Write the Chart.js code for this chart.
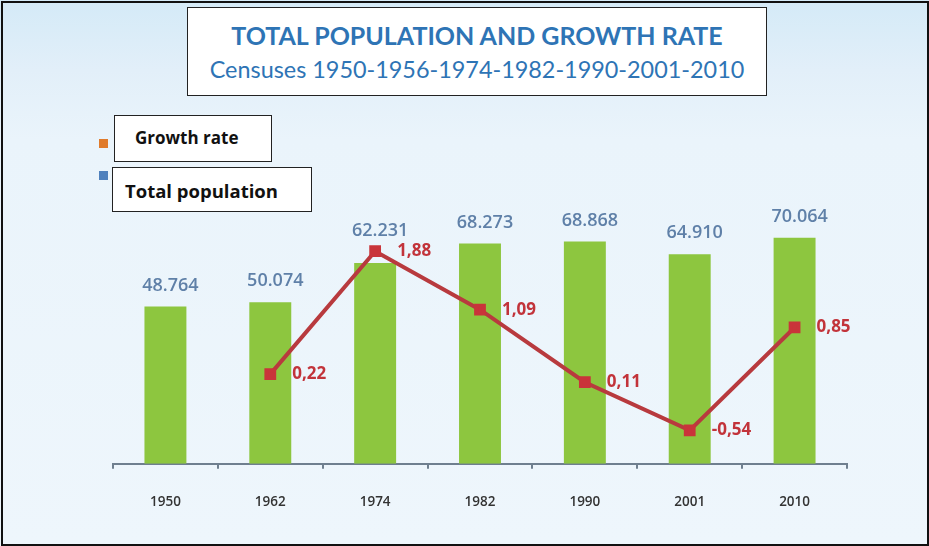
<!DOCTYPE html>
<html>
<head>
<meta charset="utf-8">
<script src="https://cdn.jsdelivr.net/npm/chart.js@4/dist/chart.umd.min.js"></script>
<style>
  body { margin: 0; width: 929px; height: 546px; overflow: hidden; position: relative;
    background: linear-gradient(#d4eaf7 0px, #e2eff9 70px, #eaf4fb 140px, #eef6fc 546px); }
  #chart { position: absolute; left: 0; top: 0; }
  #frame { position: absolute; left: 1px; top: 1px; width: 924px; height: 541px; border: 2px solid #111; }
  .box { position: absolute; background: #fff; border: 1.5px solid #222; box-sizing: border-box; }
  #titlebox { left: 187px; top: 7px; width: 580px; height: 89px; text-align: center; }
  #title { position: absolute; left: 0; right: 0; top: 12px; font: bold 25px Lato, sans-serif; color: #2e74b5; }
  #subtitle { position: absolute; left: 0; right: 0; top: 47px; font: 23.4px Lato, sans-serif; color: #2e74b5; }
  .leg { font: bold 17px 'Open Sans', sans-serif; color: #111; line-height: 20px; padding-top: 12px; }
  #leg1 { left: 114px; top: 115px; width: 158px; height: 47px; padding-left: 20px; }
  #leg2 { left: 112px; top: 167px; width: 200px; height: 45px; padding-left: 12px; padding-top: 13px; font-size: 18.5px; }
  .sq { position: absolute; width: 9px; height: 9px; }
</style>
</head>
<body>
<canvas id="chart" width="929" height="546"></canvas>
<div class="sq" style="left:99px;top:139px;background:#e07b2b"></div>
<div class="sq" style="left:99px;top:171px;background:#4f81bd"></div>
<div class="box" id="titlebox">
  <div id="title">TOTAL POPULATION AND GROWTH RATE</div>
  <div id="subtitle">Censuses 1950-1956-1974-1982-1990-2001-2010</div>
</div>
<div class="box leg" id="leg1">Growth rate</div>
<div class="box leg" id="leg2">Total population</div>
<div id="frame"></div>
<script>
var years = ["1950", "1962", "1974", "1982", "1990", "2001", "2010"];
var population = [48.764, 50.074, 62.231, 68.273, 68.868, 64.910, 70.064];
var growth = [null, 0.22, 1.88, 1.09, 0.11, -0.54, 0.85];

// value labels above the bars and to the right of the line points
var valueLabels = {
  id: "valueLabels",
  afterDatasetsDraw: function(chart){
    var ctx = chart.ctx;
    var bars = chart.getDatasetMeta(0).data;
    var pts = chart.getDatasetMeta(1).data;
    ctx.save();
    ctx.textBaseline = "middle";

    ctx.font = "600 18px 'Open Sans'";
    ctx.fillStyle = "#5f80a8";
    ctx.textAlign = "center";
    for(var i = 0; i < bars.length; i++){
      var y = bars[i].y - 21;
      if(growth[i] !== null){
        var py = pts[i].y;
        if(py > bars[i].y - 40 && py < bars[i].y + 15){
          y = Math.min(y, py - 20);
        }
      }
      ctx.fillText(population[i].toFixed(3), bars[i].x + 5, y);
    }

    ctx.font = "bold 17px 'Open Sans'";
    ctx.fillStyle = "#c2333a";
    ctx.textAlign = "left";
    for(var j = 0; j < pts.length; j++){
      if(growth[j] === null) continue;
      ctx.fillText(growth[j].toFixed(2).replace(".", ","), pts[j].x + 22, pts[j].y);
    }
    ctx.restore();
  }
};

var g = new Chart(document.getElementById("chart"), {
  type: "bar",
  data: {
    labels: years,
    datasets: [
      {
        label: "Total population",
        data: population,
        backgroundColor: "#8dc63f",
        barPercentage: 0.4,
        categoryPercentage: 1,
        yAxisID: "y",
        order: 1
      },
      {
        type: "line",
        label: "Growth rate",
        data: growth,
        borderColor: "#b83a3e",
        borderWidth: 4,
        pointStyle: "rect",
        pointRadius: 5.5,
        pointBackgroundColor: "#c9343a",
        pointBorderColor: "#c9343a",
        tension: 0,
        yAxisID: "y2",
        order: 0
      }
    ]
  },
  options: {
    responsive: false,
    animation: false,
    devicePixelRatio: 1,
    layout: { padding: { left: 113, right: 82, top: 141, bottom: 11 } },
    plugins: { legend: { display: false }, tooltip: { enabled: false } },
    scales: {
      x: {
        grid: { drawOnChartArea: false, offset: true, tickLength: 5, color: "#6f7f8f", lineWidth: 2 },
        border: { color: "#6f7f8f", width: 2 },
        ticks: { color: "#333", padding: 25, font: { family: "'Open Sans'", size: 13.5, weight: "600" } }
      },
      y: { display: false, min: 0, max: 100 },
      y2: { display: false, min: -0.992, max: 3.369 }
    }
  },
  plugins: [valueLabels]
});
</script>
</body>
</html>
